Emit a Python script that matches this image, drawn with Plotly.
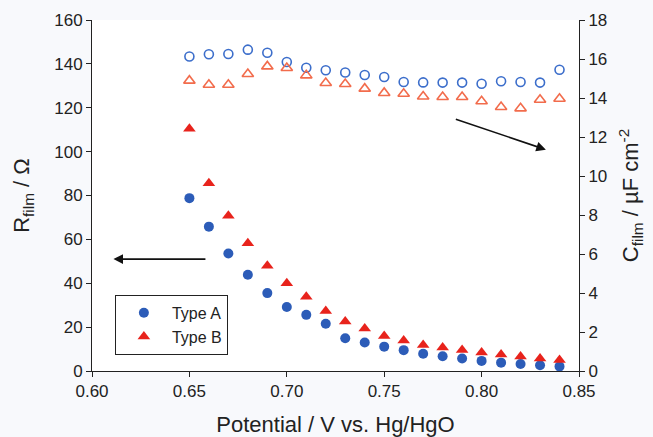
import plotly.graph_objects as go

potential = [0.65, 0.66, 0.67, 0.68, 0.69, 0.70, 0.71, 0.72, 0.73, 0.74,
             0.75, 0.76, 0.77, 0.78, 0.79, 0.80, 0.81, 0.82, 0.83, 0.84]

r_film_a = [78.8, 65.8, 53.6, 43.9, 35.5, 29.2, 25.6, 21.5, 14.9, 13.0,
            11.1, 9.5, 7.9, 6.7, 5.7, 4.6, 3.8, 3.2, 2.6, 2.1]
r_film_b = [110.4, 85.6, 70.8, 58.2, 48.0, 40.0, 33.8, 27.4, 22.6, 19.4,
            16.0, 13.9, 11.9, 10.7, 9.6, 8.4, 7.5, 6.6, 5.7, 5.0]

c_film_a = [16.13, 16.24, 16.26, 16.48, 16.32, 15.85, 15.55, 15.42, 15.31, 15.18,
            15.08, 14.82, 14.80, 14.79, 14.79, 14.73, 14.86, 14.82, 14.79, 15.45]
c_film_b = [14.89, 14.68, 14.68, 15.23, 15.62, 15.54, 15.16, 14.77, 14.72, 14.48,
            14.26, 14.22, 14.08, 14.05, 14.05, 13.83, 13.54, 13.47, 13.91, 13.96]

x_ticks = [0.60, 0.65, 0.70, 0.75, 0.80, 0.85]
y_ticks = [0, 20, 40, 60, 80, 100, 120, 140, 160]
y2_ticks = [0, 2, 4, 6, 8, 10, 12, 14, 16, 18]

blue_fill = "#2C5CB8"
red_fill = "#E8231C"
blue_open = "#3C6ECB"
orange_open = "#F26C4C"
font_family = "Liberation Sans, Arial, sans-serif"

fig = go.Figure()

fig.add_trace(go.Scatter(
    x=potential, y=c_film_a, mode="markers", yaxis="y2", showlegend=False,
    marker=dict(symbol="circle-open", size=9, color=blue_open, line=dict(width=1.6, color=blue_open)),
))
fig.add_trace(go.Scatter(
    x=potential, y=c_film_b, mode="markers", yaxis="y2", showlegend=False,
    marker=dict(symbol="triangle-up-open", size=10, color=orange_open, line=dict(width=1.6, color=orange_open)),
))
fig.add_trace(go.Scatter(
    x=potential, y=r_film_a, mode="markers", name="Type A",
    marker=dict(symbol="circle", size=10, color=blue_fill),
))
fig.add_trace(go.Scatter(
    x=potential, y=r_film_b, mode="markers", name="Type B",
    marker=dict(symbol="triangle-up", size=11, color=red_fill),
))

axis_common = dict(
    showgrid=False, zeroline=False, showline=True, linecolor="#222", linewidth=1,
    ticks="outside", ticklen=5, tickcolor="#222", tickwidth=1, automargin=False,
    tickfont=dict(family=font_family, size=17, color="#222"),
)

fig.update_layout(
    width=653, height=437,
    margin=dict(l=92, r=74, t=20, b=66),
    paper_bgcolor="#F8F9FC", plot_bgcolor="white",
    font=dict(family=font_family, color="#222"),
    xaxis=dict(range=[0.6, 0.85], tickvals=x_ticks, tickformat=".2f",
               title=dict(text="Potential / V vs. Hg/HgO", font=dict(size=22, family=font_family), standoff=16),
               **axis_common),
    yaxis=dict(range=[0, 160], tickvals=y_ticks,
               title=dict(text="R<sub>film</sub> / Ω", font=dict(size=22, family=font_family), standoff=18),
               **axis_common),
    yaxis2=dict(range=[0, 18], tickvals=y2_ticks, overlaying="y", side="right",
                title=dict(text="C<sub>film</sub> / µF cm<sup>-2</sup>", font=dict(size=22, family=font_family), standoff=16),
                **axis_common),
    legend=dict(x=0.047, y=0.217, xanchor="left", yanchor="top",
                bgcolor="white", bordercolor="#222", borderwidth=1,
                font=dict(family=font_family, size=16, color="#222"),
                itemwidth=46, tracegroupgap=0),
)

# Arrows indicating which axis each data set belongs to
fig.add_annotation(x=0.611, y=51, ax=0.659, ay=51, xref="x", yref="y", axref="x", ayref="y",
                   text="", showarrow=True, arrowhead=2, arrowsize=1.2, arrowwidth=1.6, arrowcolor="#111")
fig.add_annotation(x=0.833, y=11.35, ax=0.786, ay=12.94, xref="x", yref="y2", axref="x", ayref="y2",
                   text="", showarrow=True, arrowhead=2, arrowsize=1.2, arrowwidth=1.6, arrowcolor="#111")

fig.write_html("out.html")
